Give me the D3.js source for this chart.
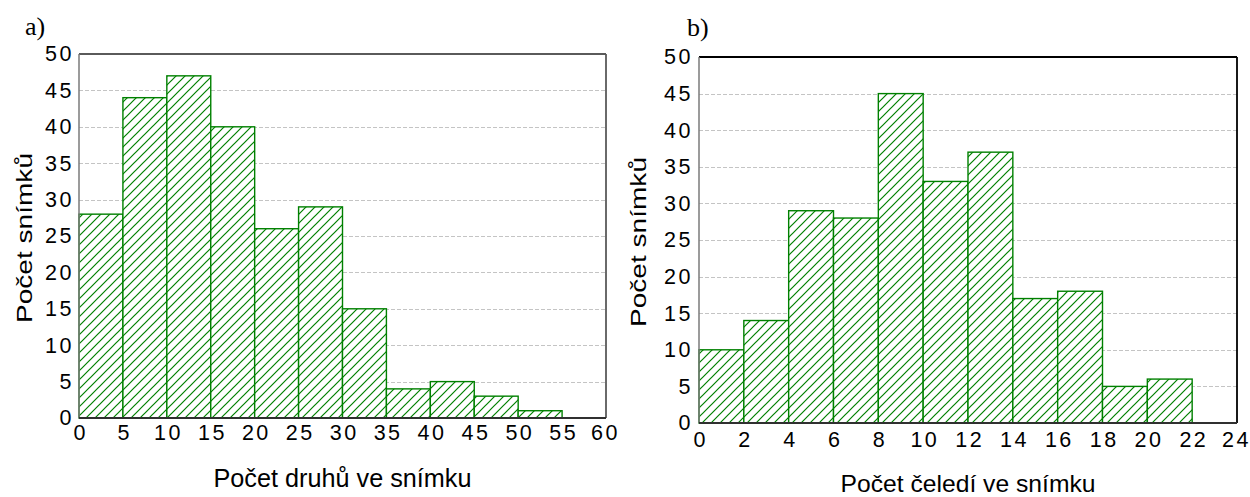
<!DOCTYPE html>
<html>
<head>
<meta charset="utf-8">
<script src="https://d3js.org/d3.v7.min.js"></script>
<style>
  html, body { margin: 0; padding: 0; background: #fff; }
  svg { display: block; }
  .tick text { font-family: "Liberation Sans", Arial, sans-serif; fill: #000; }
</style>
</head>
<body>
<svg id="chart" width="1250" height="497"></svg>
<script>
// panel a) - species per releve
const binStartA = [0, 5, 10, 15, 20, 25, 30, 35, 40, 45, 50, 55];
const countsA = [28, 44, 47, 40, 26, 29, 15, 4, 5, 3, 1, 0];
const xTicksA = [0, 5, 10, 15, 20, 25, 30, 35, 40, 45, 50, 55, 60];

// panel b) - families per releve
const binStartB = [0, 2, 4, 6, 8, 10, 12, 14, 16, 18, 20, 22];
const countsB = [10, 14, 29, 28, 45, 33, 37, 17, 18, 5, 6, 0];
const xTicksB = [0, 2, 4, 6, 8, 10, 12, 14, 16, 18, 20, 22, 24];

const yTicks = [0, 5, 10, 15, 20, 25, 30, 35, 40, 45, 50];
const gridTicks = [5, 10, 15, 20, 25, 30, 35, 40, 45];

const svg = d3.select('#chart');
const GREEN = '#008000';

// hatch pattern "/" shared by both panels
const defs = svg.append('defs');
const pat = defs.append('pattern')
  .attr('id', 'hatch')
  .attr('patternUnits', 'userSpaceOnUse')
  .attr('width', 9)
  .attr('height', 9);
pat.append('rect').attr('width', 9).attr('height', 9).attr('fill', '#fff');
pat.append('path')
  .attr('d', 'M-2,2 L2,-2 M0,9 L9,0 M7,11 L11,7')
  .attr('stroke', GREEN)
  .attr('stroke-width', 1.2);

function drawHist(opts) {
  const { box, starts, counts, binWidth, xMax, xTicks, tag, xTitle } = opts;

  const x = d3.scaleLinear().domain([0, xMax]).range([box.left, box.right]);
  const y = d3.scaleLinear().domain([0, 50]).range([box.bottom, box.top]);

  const g = svg.append('g');

  // grid
  g.append('g')
    .selectAll('line')
    .data(gridTicks)
    .join('line')
    .attr('x1', box.left)
    .attr('x2', box.right)
    .attr('y1', d => Math.round(y(d)) + 0.5)
    .attr('y2', d => Math.round(y(d)) + 0.5)
    .attr('stroke', '#c4c4c4')
    .attr('stroke-width', 1)
    .attr('stroke-dasharray', '4,2');

  // bars
  g.append('g')
    .selectAll('rect')
    .data(starts.map((s, i) => ({ s, c: counts[i] })))
    .join('rect')
    .attr('x', d => x(d.s))
    .attr('y', d => y(d.c))
    .attr('width', d => x(d.s + binWidth) - x(d.s))
    .attr('height', d => y(0) - y(d.c))
    .attr('fill', 'url(#hatch)')
    .attr('stroke', GREEN)
    .attr('stroke-width', 1.4);

  // frame
  g.append('line')
    .attr('x1', box.left).attr('x2', box.right)
    .attr('y1', box.top).attr('y2', box.top)
    .attr('stroke', box.frame).attr('stroke-width', 1.8);
  g.append('line')
    .attr('x1', box.right).attr('x2', box.right)
    .attr('y1', box.top).attr('y2', box.bottom)
    .attr('stroke', box.frame).attr('stroke-width', 1.8);
  g.append('line')
    .attr('x1', box.left).attr('x2', box.left)
    .attr('y1', box.top).attr('y2', box.bottom)
    .attr('stroke', '#7a7a7a').attr('stroke-width', 1.5);
  g.append('line')
    .attr('x1', box.left).attr('x2', box.right)
    .attr('y1', box.bottom).attr('y2', box.bottom)
    .attr('stroke', '#303030').attr('stroke-width', 1.8);

  // y axis labels
  const yAxis = g.append('g')
    .attr('transform', `translate(${box.left},0)`)
    .call(d3.axisLeft(y).tickValues(yTicks).tickSize(0).tickPadding(box.yPad));
  yAxis.select('.domain').remove();
  yAxis.selectAll('text')
    .style('font-size', '21.5px')
    .style('letter-spacing', '2.5px');

  // x axis labels
  const xAxis = g.append('g')
    .attr('transform', `translate(0,${box.bottom})`)
    .call(d3.axisBottom(x).tickValues(xTicks).tickSize(0).tickPadding(box.xPad));
  xAxis.select('.domain').remove();
  xAxis.selectAll('text')
    .style('font-size', '21.5px')
    .style('letter-spacing', '2.5px')
    .attr('dx', (d, i) => i === xTicks.length - 1 ? '-1px' : '1.2px');

  // titles
  g.append('text')
    .attr('transform', `translate(${box.yTitleX},${(box.top + box.bottom) / 2 + 2}) rotate(-90)`)
    .attr('text-anchor', 'middle')
    .attr('textLength', 170)
    .attr('lengthAdjust', 'spacingAndGlyphs')
    .style('font-family', '"Liberation Sans", Arial, sans-serif')
    .style('font-size', '22px')
    .text('Počet snímků');

  g.append('text')
    .attr('x', (box.left + box.right) / 2)
    .attr('y', box.xTitleY)
    .attr('text-anchor', 'middle')
    .attr('textLength', box.xTitleLen)
    .attr('lengthAdjust', 'spacingAndGlyphs')
    .style('font-family', '"Liberation Sans", Arial, sans-serif')
    .style('font-size', box.xTitleSize)
    .text(xTitle);

  g.append('text')
    .attr('x', box.tagX)
    .attr('y', box.tagY)
    .style('font-family', '"Liberation Serif", "Times New Roman", serif')
    .style('font-size', '26px')
    .text(tag);
}

drawHist({
  box: { left: 79, right: 606, top: 54, bottom: 418, frame: '#5a5a5a',
         yPad: 5, xPad: 7, yTitleX: 32, xTitleY: 487, xTitleLen: 258, xTitleSize: '25px',
         tagX: 25, tagY: 35 },
  starts: binStartA, counts: countsA, binWidth: 5, xMax: 60, xTicks: xTicksA,
  tag: 'a)', xTitle: 'Počet druhů ve snímku'
});

drawHist({
  box: { left: 699, right: 1237, top: 57, bottom: 423, frame: '#000',
         yPad: 6, xPad: 9, yTitleX: 646, xTitleY: 492, xTitleLen: 255, xTitleSize: '24px',
         tagX: 687, tagY: 36 },
  starts: binStartB, counts: countsB, binWidth: 2, xMax: 24, xTicks: xTicksB,
  tag: 'b)', xTitle: 'Počet čeledí ve snímku'
});
</script>
</body>
</html>
